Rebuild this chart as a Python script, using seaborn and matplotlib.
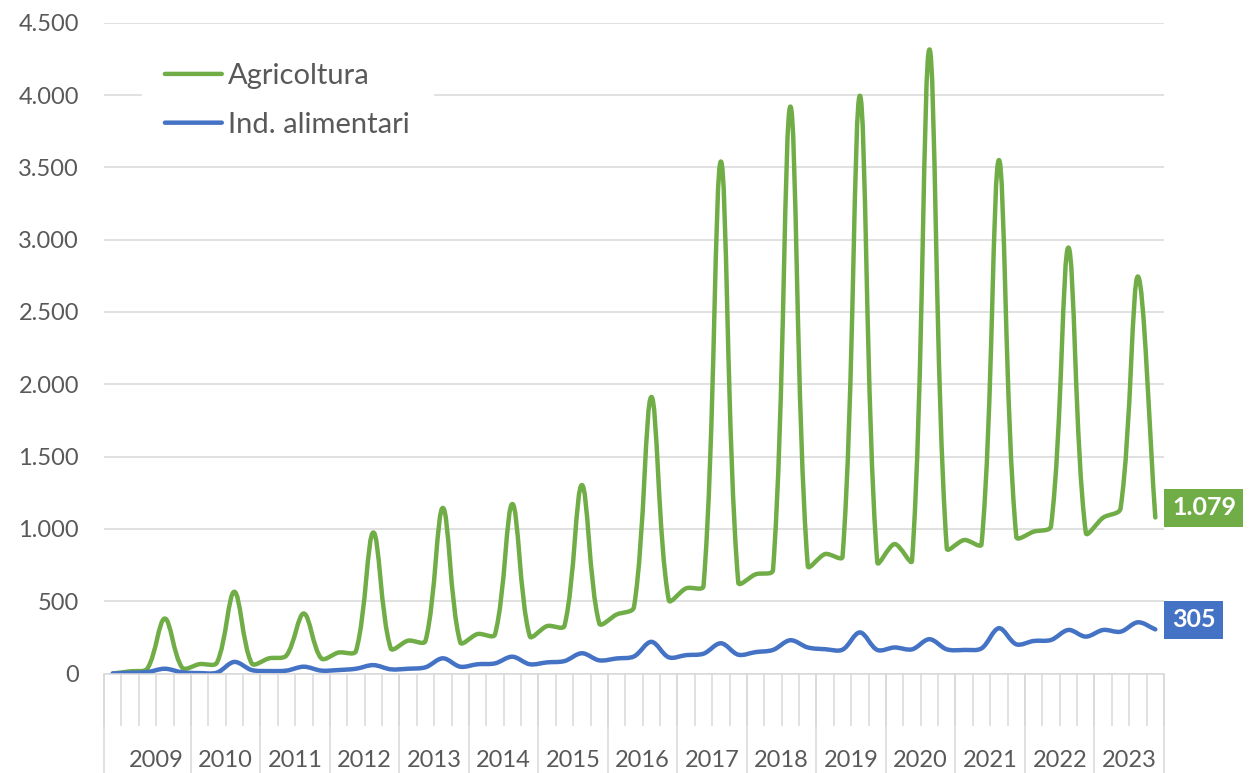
import numpy as np
import pandas as pd
import matplotlib
matplotlib.use("Agg")
import matplotlib.pyplot as plt
import matplotlib.patheffects as pe
from matplotlib.path import Path
from matplotlib.transforms import IdentityTransform
from matplotlib.ticker import FuncFormatter, NullFormatter
import seaborn as sns

# ---------------- data ----------------
years = [str(y) for y in range(2009, 2024)]
series_names = ["Agricoltura", "Ind. alimentari"]
agricoltura = [0, 15, 35, 380, 40, 65, 75, 565, 70, 105, 125, 415,
               105, 145, 155, 975, 174, 227, 225, 1145, 216, 273, 270, 1172,
               259, 328, 330, 1303, 347, 408, 460, 1912, 508, 589, 605, 3540,
               630, 686, 716, 3920, 745, 826, 808, 3995, 770, 895, 780, 4315,
               866, 923, 895, 3550, 946, 981, 1020, 2945, 974, 1078, 1142, 2745,
               1079]
ind_alimentari = [0, 5, 10, 33, 8, 3, 6, 80, 24, 17, 20, 47,
                  20, 24, 33, 58, 29, 33, 43, 105, 47, 64, 70, 116,
                  64, 77, 86, 140, 91, 104, 118, 219, 112, 127, 137, 209,
                  130, 148, 163, 230, 180, 168, 165, 284, 163, 180, 167, 237,
                  167, 163, 174, 313, 202, 225, 232, 301, 255, 301, 289, 354,
                  305]
yticks = list(range(0, 4501, 500))

GREEN = "#70AD47"
BLUE = "#4472C4"
GRID = "#D9D9D9"
TXT = "#595959"


class BezierSmooth(pe.AbstractPathEffect):
    """Render a polyline as a smoothed (Excel-like) cubic Bezier curve,
    with tangents scaled by neighbouring segment lengths."""
    def draw_path(self, renderer, gc, tpath, affine, rgbFace=None):
        pts = affine.transform(tpath.vertices)
        n = len(pts)
        if n < 3:
            renderer.draw_path(gc, tpath, affine, rgbFace)
            return
        t = 1.0 / 3.0
        out_cp = [None] * n
        in_cp = [None] * n
        for i in range(n):
            p1 = pts[i]
            p0 = pts[i - 1] if i > 0 else pts[i]
            p2 = pts[i + 1] if i < n - 1 else pts[i]
            d = p2 - p0
            l0 = np.hypot(*(p1 - p0))
            l2 = np.hypot(*(p2 - p1))
            s = l0 + l2
            if s == 0:
                out_cp[i] = p1
                in_cp[i] = p1
                continue
            out_cp[i] = p1 + d * (l2 / s) * t
            in_cp[i] = p1 - d * (l0 / s) * t
        verts = [pts[0]]
        codes = [Path.MOVETO]
        for i in range(n - 1):
            verts += [out_cp[i], in_cp[i + 1], pts[i + 1]]
            codes += [Path.CURVE4] * 3
        renderer.draw_path(gc, Path(np.array(verts), codes), IdentityTransform(), rgbFace)


sns.set_style("white")
plt.rcParams["font.family"] = ["Lato", "DejaVu Sans"]

n = len(agricoltura)
idx = np.arange(n)
df = pd.DataFrame({
    "idx": np.concatenate([idx, idx]),
    "value": agricoltura + ind_alimentari,
    "series": [series_names[0]] * n + [series_names[1]] * n,
})

W, H = 1250, 773
fig = plt.figure(figsize=(W / 100, H / 100), dpi=100)
ax = fig.add_axes([104 / W, (H - 673.5) / H, 1060 / W, (673.5 - 22.7) / H])

sns.lineplot(data=df, x="idx", y="value", hue="series", hue_order=series_names,
             palette={series_names[0]: GREEN, series_names[1]: BLUE},
             linewidth=3.2, errorbar=None, legend=False, ax=ax)
for ln in ax.lines:
    ln.set_path_effects([BezierSmooth()])
    ln.set_solid_capstyle("round")
    ln.set_solid_joinstyle("round")

ax.set_xlim(-0.5, n - 0.5)
ax.set_ylim(0, 4500)
ax.set_yticks(yticks)
ax.yaxis.set_major_formatter(FuncFormatter(lambda v, p: f"{int(v):,}".replace(",", ".")))
ax.tick_params(axis="y", left=False, length=0, pad=18, labelsize=17, labelcolor=TXT)
ax.grid(axis="y", color=GRID, linewidth=1.1)
ax.grid(axis="x", visible=False)
ax.set_axisbelow(True)
for s in ["left", "right", "top"]:
    ax.spines[s].set_visible(False)
ax.spines["bottom"].set_color(GRID)
ax.spines["bottom"].set_linewidth(1.1)
ax.set_xlabel("")
ax.set_ylabel("")

# x axis: short ticks at every category boundary
bounds = np.arange(-0.5, n, 1.0)
ax.set_xticks(bounds)
ax.xaxis.set_major_formatter(NullFormatter())
ax.tick_params(axis="x", which="major", bottom=True, length=37.5, width=1.1,
               color=GRID, direction="out")

# long separators between years
sec = ax.secondary_xaxis("bottom")
group_bounds = [-0.5] + [4 * k + 4.5 for k in range(len(years))]
sec.set_xticks(group_bounds)
sec.xaxis.set_major_formatter(NullFormatter())
sec.tick_params(axis="x", bottom=True, length=75, width=1.1, color=GRID)
sec.spines["bottom"].set_visible(False)

# year labels centred in their groups
lab = ax.secondary_xaxis("bottom")
centers = [4 * k + 2.5 for k in range(len(years))]
lab.set_xticks(centers)
lab.set_xticklabels(years)
lab.tick_params(axis="x", bottom=True, length=0, pad=55, labelsize=17, labelcolor=TXT)
lab.spines["bottom"].set_visible(False)

# legend
leg = ax.legend(handles=ax.lines[:2], labels=series_names, loc="center left",
                bbox_to_anchor=(127 / W, 1 - 100.5 / H), bbox_transform=fig.transFigure,
                frameon=True, fancybox=False, framealpha=1, edgecolor="white",
                facecolor="white", fontsize=21, handlelength=1.95, handletextpad=0.2,
                labelspacing=0.78, borderpad=0.8)
for t in leg.get_texts():
    t.set_color(TXT)
for h in leg.get_lines():
    h.set_linewidth(3.2)

# end data labels
for vals, col in [(agricoltura, GREEN), (ind_alimentari, BLUE)]:
    last = vals[-1]
    ax.annotate(f"{last:,}".replace(",", "."), xy=(n - 1, last), xytext=(12, 7),
                textcoords="offset points", ha="left", va="center",
                fontsize=18, fontweight="bold", color="white", annotation_clip=False,
                bbox=dict(boxstyle="square,pad=0.3", fc=col, ec="none"))

fig.savefig("out.png", dpi=100)
